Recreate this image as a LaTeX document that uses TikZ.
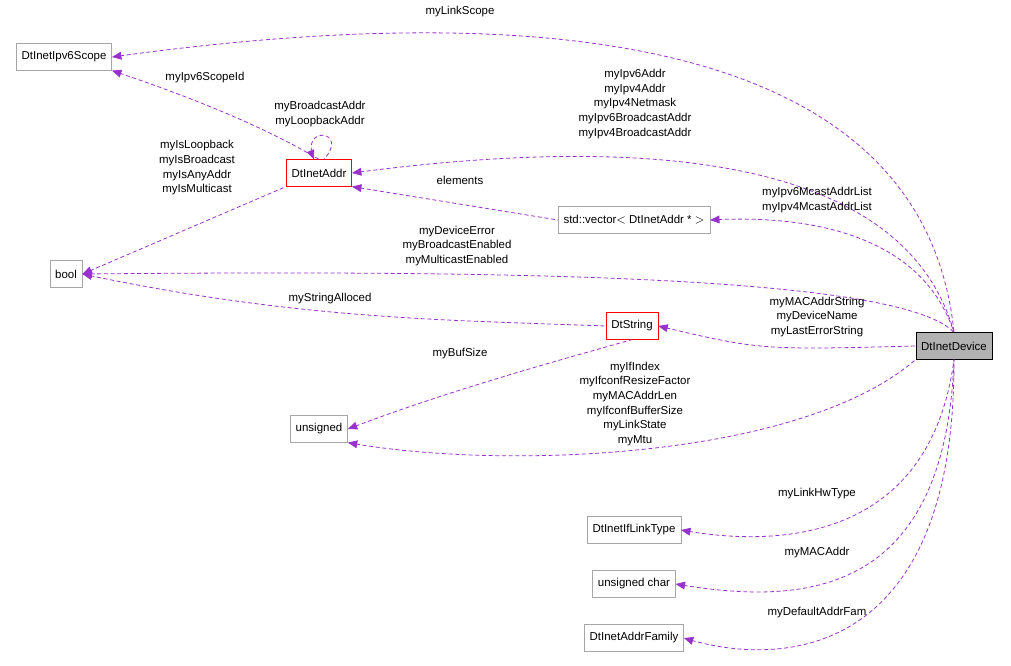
\documentclass[tikz,border=0pt]{standalone}
\usepackage{fontspec}
\setmainfont{Liberation Sans}
\usetikzlibrary{arrows}
\definecolor{edgecol}{RGB}{153,50,204}

\begin{document}
\begin{tikzpicture}[x=0.75pt,y=-0.75pt, every node/.style={font=\fontsize{8.6}{11}\selectfont},
 cls/.style={draw=black!35,rectangle,minimum height=20pt,inner xsep=4pt},
 red/.style={cls,draw=red},
 lnk/.style={edgecol,densely dashed,semithick,<-,>=triangle 45},
 lbl/.style={align=center,inner sep=0pt}]
\useasboundingbox (0,0) rectangle (1011,665);

\node[cls] (ipv6) at (64,57) {DtInetIpv6Scope};
\node[red] (addr) at (319,173) {DtInetAddr};
\node[cls] (vec) at (634,220) {std::vector$<$ DtInetAddr * $>$};
\node[cls] (bool) at (66,274) {bool};
\node[red] (str) at (632,326) {DtString};
\node[cls,fill=black!30,draw=black] (dev) at (954,346) {DtInetDevice};
\node[cls] (uns) at (319,429) {unsigned};
\node[cls] (link) at (634,530) {DtInetIfLinkType};
\node[cls] (uchar) at (634,584) {unsigned char};
\node[cls] (fam) at (634,638) {DtInetAddrFamily};

\draw[lnk] (ipv6.east) .. controls (450,10) and (920,0) .. (dev.north);
\node[lbl] at (460,12) {myLinkScope};
\draw[lnk] (ipv6.south east) .. controls (200,100) and (270,130) .. (addr.north);
\node[lbl] at (205,78) {myIpv6ScopeId};
\draw[lnk] (addr.110) .. controls (300,125) and (350,130) .. (addr.70);
\node[lbl] at (320,114) {myBroadcastAddr\\myLoopbackAddr};
\draw[lnk] (bool.east) -- (addr.south west);
\node[lbl] at (197,168) {myIsLoopback\\myIsBroadcast\\myIsAnyAddr\\myIsMulticast};
\draw[lnk] (addr.east) .. controls (600,140) and (900,140) .. (dev.north);
\node[lbl] at (635,104) {myIpv6Addr\\myIpv4Addr\\myIpv4Netmask\\myIpv6BroadcastAddr\\myIpv4BroadcastAddr};
\draw[lnk] (addr.south east) -- (vec.west);
\node[lbl] at (460,180) {elements};
\draw[lnk] (vec.east) .. controls (800,215) and (920,230) .. (dev.north);
\node[lbl] at (817,200) {myIpv6McastAddrList\\myIpv4McastAddrList};
\draw[lnk] (bool.east) .. controls (500,270) and (900,275) .. (dev.north);
\node[lbl] at (457,246) {myDeviceError\\myBroadcastEnabled\\myMulticastEnabled};
\draw[lnk] (bool.east) .. controls (300,320) and (450,320) .. (str.west);
\node[lbl] at (330,299) {myStringAlloced};
\draw[lnk] (str.east) .. controls (760,350) .. (dev.west);
\node[lbl] at (817,317) {myMACAddrString\\myDeviceName\\myLastErrorString};
\draw[lnk] (uns.east) .. controls (450,390) and (560,360) .. (str.south);
\node[lbl] at (460,354) {myBufSize};
\draw[lnk] (uns.south east) .. controls (500,470) and (800,460) .. (dev.south west);
\node[lbl] at (635,404) {myIfIndex\\myIfconfResizeFactor\\myMACAddrLen\\myIfconfBufferSize\\myLinkState\\myMtu};
\draw[lnk] (link.east) .. controls (780,548) and (930,540) .. (dev.south);
\node[lbl] at (817,494) {myLinkHwType};
\draw[lnk] (uchar.east) .. controls (800,605) and (945,600) .. (dev.south);
\node[lbl] at (817,553) {myMACAddr};
\draw[lnk] (fam.east) .. controls (780,668) and (955,660) .. (dev.south);
\node[lbl] at (817,613) {myDefaultAddrFam};
\end{tikzpicture}
\end{document}
